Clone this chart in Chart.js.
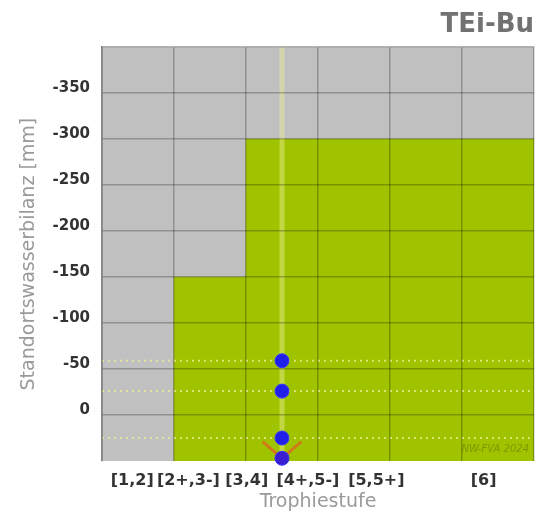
<!DOCTYPE html>
<html><head><meta charset="utf-8">
<script src="https://cdn.jsdelivr.net/npm/chart.js@4"></script>
<style>html,body{margin:0;padding:0;background:#fff}canvas{display:block}</style>
</head><body>
<canvas id="c" width="538" height="513"></canvas>
<script>
// ---- data ----
const categories = ['[1,2]', '[2+,3-]', '[3,4]', '[4+,5-]', '[5,5+]', '[6]'];
const zoneTop = [null, -150, -300, -300, -300, -300];
const zoneBottom = [null, 50, 50, 50, 50, 50];
const pointCategory = [3, 3, 3, 3];
const pointValues = [-59, -26, 25, 47];
const guideValues = [-59, -26, 25];
const markerX = [2.73, 3, 3.27];
const markerY = [29, 47, 29];
const yTickValues = [-350, -300, -250, -200, -150, -100, -50, 0];
const yTickLabels = ['-350', '-300', '-250', '-200', '-150', '-100', '-50', '0'];
const yMin = -400, yMax = 50;
const chartTitle = 'TEi-Bu';
const xTitle = 'Trophiestufe';
const yTitle = 'Standortswasserbilanz [mm]';
const watermark = 'NW-FVA 2024';

// ---- layout helpers ----
const xMin = 0.5, xMax = categories.length + 0.5;
const columnEdges = categories.map((c, i) => i + 0.5).concat([xMax]);
const labelPos = [0.92, 1.70, 2.51, 3.36, 4.31, 5.80];

Chart.defaults.font.family = 'DejaVu Sans';

const noSidePad = s => { s.paddingLeft = 0; s.paddingRight = 0; };

const bgPlugin = {
  id: 'bg',
  beforeDraw(chart) {
    const {ctx, chartArea: a} = chart;
    ctx.save();
    ctx.fillStyle = '#ffffff';
    ctx.fillRect(0, 0, chart.width, chart.height);
    ctx.fillStyle = '#c0c0c0';
    ctx.fillRect(a.left, a.top, a.right - a.left, a.bottom - a.top);
    ctx.restore();
  }
};
const markPlugin = {
  id: 'mark',
  afterDraw(chart) {
    const {ctx, chartArea: a} = chart;
    ctx.save();
    ctx.font = 'italic 10px "DejaVu Sans"';
    ctx.fillStyle = 'rgba(90,110,0,0.5)';
    ctx.textAlign = 'right';
    ctx.textBaseline = 'middle';
    ctx.fillText(watermark, a.right - 5, a.bottom - 12);
    ctx.restore();
  }
};

const zoneData = categories.map((c, i) => zoneTop[i] == null ? null : {x: i + 1, y: [zoneTop[i], zoneBottom[i]]}).filter(d => d);

const datasets = [
  {type: 'bar', data: zoneData, backgroundColor: '#a0c300', borderWidth: 0,
   barPercentage: 1, categoryPercentage: 1, order: 10},
  {type: 'line', data: [{x: pointCategory[0], y: yMin}, {x: pointCategory[0], y: yMax}],
   borderColor: 'rgba(238,238,150,0.45)', borderWidth: 5, pointRadius: 0, order: 8}
];
guideValues.forEach(v => datasets.push({
  type: 'line', data: [{x: xMin, y: v}, {x: xMax, y: v}],
  borderColor: 'rgba(240,240,150,0.75)', borderWidth: 2, borderDash: [2, 4], pointRadius: 0, order: 6
}));
datasets.push({
  type: 'line', data: markerX.map((x, i) => ({x, y: markerY[i]})),
  borderColor: '#d07a18', borderWidth: 3, pointRadius: 0, order: 2, clip: false
});
datasets.push({
  type: 'line', showLine: false, data: pointCategory.map((x, i) => ({x, y: pointValues[i]})),
  pointRadius: 7, pointBackgroundColor: ['#2020ea', '#2020ea', '#2020ea', '#3a1ed0'],
  pointBorderColor: '#3535ff', pointBorderWidth: 1, order: 0, clip: false
});

new Chart(document.getElementById('c'), {
  type: 'bar',
  data: {datasets},
  plugins: [bgPlugin, markPlugin],
  options: {
    responsive: false, animation: false, events: [],
    layout: {autoPadding: false, padding: {left: 0, right: 4, top: 0, bottom: 0}},
    plugins: {
      legend: {display: false}, tooltip: {enabled: false},
      title: {display: true, text: chartTitle, align: 'end', color: '#727272',
        font: {size: 26, weight: 'bold'}, padding: {top: 10, bottom: 6}}
    },
    scales: {
      x: {type: 'linear', position: 'top', min: xMin, max: xMax, offset: false,
        afterBuildTicks: s => { s.ticks = columnEdges.map(v => ({value: v})); },
        ticks: {display: false},
        grid: {color: 'rgba(0,0,0,0.25)', lineWidth: 1.5, drawTicks: false, offset: false, z: 1},
        border: {display: true, color: 'rgba(0,0,0,0.3)', width: 1.5, z: 1},
        afterFit: s => { s.height = 0; noSidePad(s); }
      },
      xl: {type: 'linear', position: 'bottom', min: xMin, max: xMax, offset: false,
        afterBuildTicks: s => { s.ticks = labelPos.map(v => ({value: v})); },
        ticks: {callback: (v, i) => categories[i], color: '#333333', autoSkip: false,
          maxRotation: 0, padding: 10, font: {size: 16, weight: 'bold'}},
        grid: {display: false, drawTicks: false, offset: false}, border: {display: false},
        title: {display: true, text: xTitle, color: '#9a9a9a', font: {size: 19}, padding: {top: 0, bottom: 0}},
        afterFit: s => { s.height = 52; noSidePad(s); }
      },
      y: {type: 'linear', min: yMin, max: yMax, reverse: true,
        afterBuildTicks: s => { s.ticks = yTickValues.map(v => ({value: v})); },
        ticks: {callback: (v, i) => yTickLabels[i], color: '#333333', autoSkip: false,
          padding: 12, labelOffset: -5, font: {size: 15, weight: 'bold'}},
        grid: {color: 'rgba(0,0,0,0.25)', lineWidth: 1.5, drawTicks: false, z: 1},
        border: {display: true, color: 'rgba(0,0,0,0.3)', width: 1.5, z: 1},
        title: {display: true, text: yTitle, color: '#9a9a9a', font: {size: 19}, padding: {top: 18, bottom: 0}},
        afterFit: s => { s.width = 102; noSidePad(s); }
      }
    }
  }
});
</script>
</body></html>
